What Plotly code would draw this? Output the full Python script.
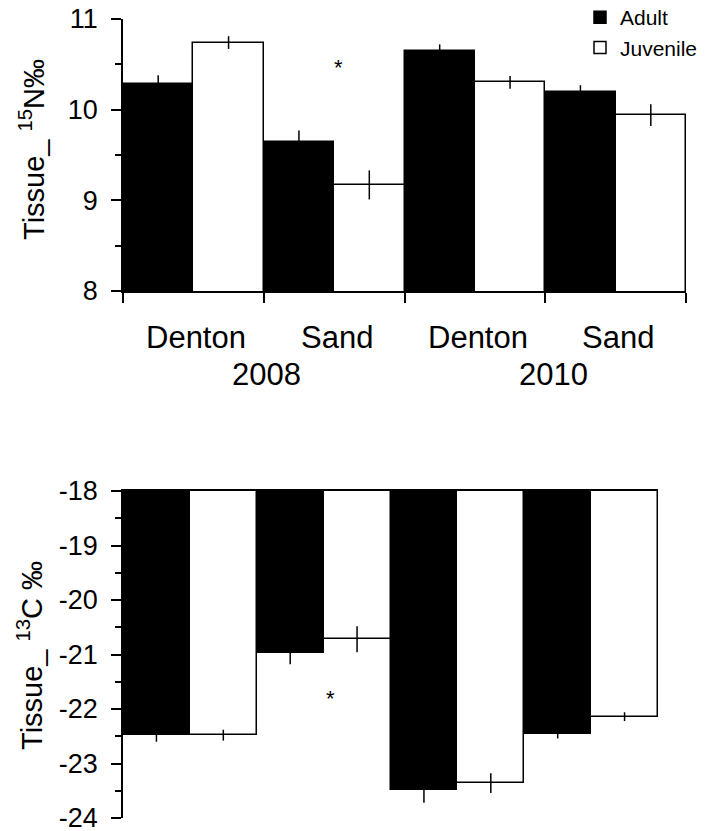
import plotly.graph_objects as go

# Sampling groups (site within year)
sites = ["Denton", "Sand", "Denton", "Sand"]
years = ["2008", "2010"]
year_pos = [1.02, 3.06]

# Tissue delta-15N (per mil), mean and SE
n15_adult = [10.28, 9.64, 10.65, 10.19]
n15_adult_se = [0.10, 0.13, 0.07, 0.08]
n15_juv = [10.74, 9.17, 10.30, 9.94]
n15_juv_se = [0.07, 0.16, 0.07, 0.12]

# Tissue delta-13C (per mil), mean and SE
c13_adult = [-22.48, -20.98, -23.49, -22.46]
c13_adult_se = [0.12, 0.20, 0.23, 0.08]
c13_juv = [-22.48, -20.72, -23.36, -22.14]
c13_juv_se = [0.10, 0.24, 0.18, 0.08]

n15_ticks = [8, 9, 10, 11]
c13_ticks = [-18, -19, -20, -21, -22, -23, -24]
c13_ticktext = ["-18", "-19", "-20", "-21", "-22", "-23", "-24"]

# Significance markers: (group position, value)
n15_star = (1.53, 10.46)
c13_star = (1.55, -21.8)

FONT = "Liberation Sans, Arial, sans-serif"
W, H = 706, 831

idx = list(range(len(sites)))
adult_x = [i + 0.25 for i in idx]
juv_x = [i + 0.75 for i in idx]

fig = go.Figure()


def add_pair(adult, adult_se, juv, juv_se, xa, ya, legend):
    fig.add_trace(go.Bar(
        x=adult_x, y=adult, width=0.5, name="Adult",
        marker=dict(color="black", line=dict(color="black", width=1.5)),
        error_y=dict(type="data", array=adult_se, color="black", thickness=1.5, width=0),
        xaxis=xa, yaxis=ya, showlegend=legend,
    ))
    fig.add_trace(go.Bar(
        x=juv_x, y=juv, width=0.5, name="Juvenile",
        marker=dict(color="white", line=dict(color="black", width=1.5)),
        error_y=dict(type="data", array=juv_se, color="black", thickness=1.5, width=0),
        xaxis=xa, yaxis=ya, showlegend=legend,
    ))


add_pair(n15_adult, n15_adult_se, n15_juv, n15_juv_se, "x", "y", True)
add_pair(c13_adult, c13_adult_se, c13_juv, c13_juv_se, "x2", "y2", False)


def px_x(p):
    return p / W


def px_y(p):
    return 1 - p / H


axis_common = dict(showgrid=False, zeroline=False, linecolor="black", linewidth=1.5,
                   tickcolor="black", tickwidth=1.5, automargin=False)

fig.update_layout(
    width=W, height=H,
    margin=dict(l=0, r=0, t=0, b=0, autoexpand=False),
    paper_bgcolor="white", plot_bgcolor="white",
    barmode="overlay", bargap=0,
    font=dict(family=FONT, color="black"),
    xaxis=dict(domain=[px_x(123), px_x(686)], range=[0, 4], anchor="y",
               showline=True, ticks="outside", ticklen=10, tickvals=[0, 1, 2, 3, 4],
               showticklabels=False, **axis_common),
    yaxis=dict(domain=[px_y(291), px_y(19)], range=[8, 11], anchor="x",
               showline=True, ticks="outside", ticklen=10, tickvals=n15_ticks,
               tickfont=dict(size=27, family=FONT), ticklabelstandoff=8,
               ticklabeloverflow="allow",
               minor=dict(ticks="outside", ticklen=6, dtick=0.5, tick0=8,
                          tickcolor="black", tickwidth=1.5),
               **axis_common),
    xaxis2=dict(domain=[px_x(123), px_x(658)], range=[0, 4], anchor="y2", side="top",
                showline=True, ticks="", showticklabels=False, **axis_common),
    yaxis2=dict(domain=[px_y(818), px_y(491)], range=[-24, -18], anchor="x2",
                showline=True, ticks="outside", ticklen=10, tickvals=c13_ticks,
                ticktext=c13_ticktext,
                tickfont=dict(size=27, family=FONT), ticklabelstandoff=8,
                ticklabeloverflow="allow",
                minor=dict(ticks="outside", ticklen=6, dtick=0.5, tick0=-24,
                           tickcolor="black", tickwidth=1.5),
                **axis_common),
    legend=dict(x=px_x(580), y=px_y(-3), xanchor="left", yanchor="top",
                font=dict(size=21, family=FONT), bgcolor="rgba(0,0,0,0)",
                itemwidth=30, tracegroupgap=0),
)

annotations = []
for i, s in enumerate(sites):
    annotations.append(dict(x=i + 0.52, y=px_y(337), xref="x", yref="paper", text=s,
                            xanchor="center", yanchor="middle",
                            showarrow=False, font=dict(size=31, family=FONT)))
for yp, yr in zip(year_pos, years):
    annotations.append(dict(x=yp, y=px_y(374), xref="x", yref="paper", text=yr,
                            xanchor="center", yanchor="middle",
                            showarrow=False, font=dict(size=31, family=FONT)))

annotations.append(dict(x=n15_star[0], y=n15_star[1], xref="x", yref="y", text="*",
                        xanchor="center", yanchor="middle",
                        showarrow=False, font=dict(size=22, family=FONT)))
annotations.append(dict(x=c13_star[0], y=c13_star[1], xref="x2", yref="y2", text="*",
                        xanchor="center", yanchor="middle",
                        showarrow=False, font=dict(size=22, family=FONT)))

annotations.append(dict(x=px_x(32), y=px_y(150), xref="paper", yref="paper",
                        text="Tissue_ <sup>15</sup>N‰", textangle=-90, showarrow=False,
                        xanchor="center", yanchor="middle",
                        font=dict(size=29, family=FONT)))
annotations.append(dict(x=px_x(30), y=px_y(656), xref="paper", yref="paper",
                        text="Tissue_ <sup>13</sup>C ‰", textangle=-90, showarrow=False,
                        xanchor="center", yanchor="middle",
                        font=dict(size=29, family=FONT)))

fig.update_layout(annotations=annotations)

fig.write_html("out.html")
